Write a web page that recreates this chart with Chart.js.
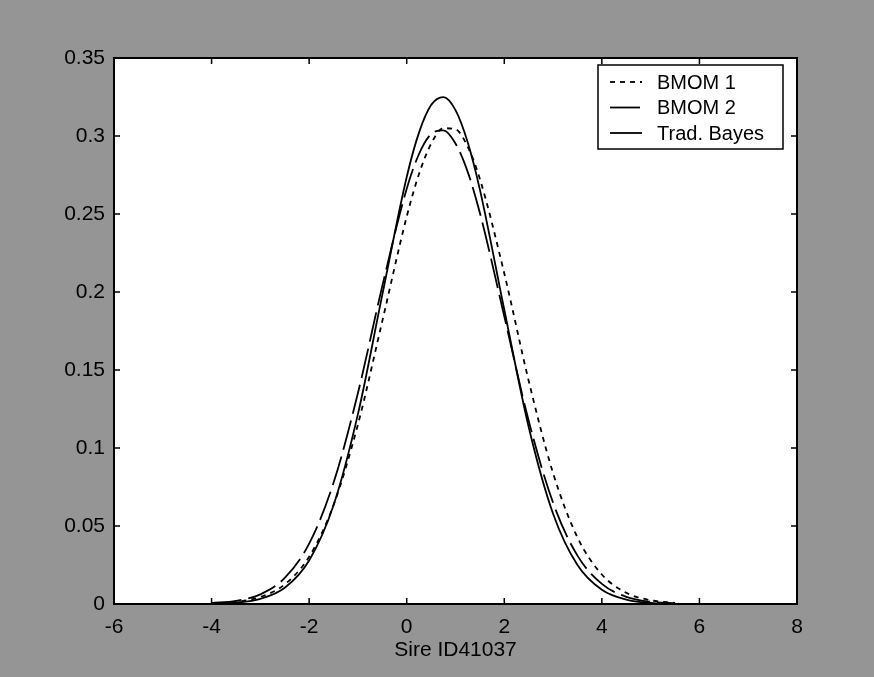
<!DOCTYPE html>
<html>
<head>
<meta charset="utf-8">
<script src="https://cdn.jsdelivr.net/npm/chart.js@4.4.1/dist/chart.umd.min.js"></script>
<style>
  html, body { margin: 0; padding: 0; background: #959595; }
  canvas { display: block; }
</style>
</head>
<body>
<canvas id="graph" width="874" height="677"></canvas>
<script>
// values
const xValues = [-4, -3.5, -3, -2.5, -2, -1.5, -1, -0.5, 0, 0.25, 0.5, 0.75, 1, 1.25, 1.5, 2, 2.5, 3, 3.5, 4, 4.5, 5, 5.5];
const bmom1 = [0.0004, 0.0014, 0.0045, 0.0126, 0.0303, 0.0634, 0.1151, 0.1814, 0.2483, 0.2755, 0.2950, 0.3050, 0.3043, 0.2931, 0.2725, 0.2119, 0.1431, 0.0839, 0.0427, 0.0189, 0.0072, 0.0024, 0.0007];
const bmom2 = [0.0006, 0.0020, 0.0062, 0.0167, 0.0387, 0.0777, 0.1352, 0.2039, 0.2662, 0.2883, 0.3012, 0.3036, 0.2952, 0.2770, 0.2507, 0.1844, 0.1175, 0.0649, 0.0310, 0.0129, 0.0046, 0.0014, 0.0004];
const tradBayes = [0.0002, 0.0009, 0.0033, 0.0104, 0.0279, 0.0633, 0.1217, 0.1983, 0.2737, 0.3020, 0.3198, 0.3249, 0.3166, 0.2960, 0.2656, 0.1886, 0.1135, 0.0579, 0.0250, 0.0091, 0.0028, 0.0007, 0.0002];

const seriesNames = ['BMOM 1', 'BMOM 2', 'Trad. Bayes'];
const xTicks = [-6, -4, -2, 0, 2, 4, 6, 8];
const yTicks = [0, 0.05, 0.1, 0.15, 0.2, 0.25, 0.3, 0.35];
const yTickLabels = ['0', '0.05', '0.1', '0.15', '0.2', '0.25', '0.3', '0.35'];
const xTitle = 'Sire ID41037';

const FONT = "'Liberation Sans', Arial, sans-serif";

function points(ys) {
    return xValues.map((x, i) => ({x: x, y: ys[i]}));
}

// grey scan background + white axes area
const paper = {
    id: 'paper',
    beforeDraw(chart) {
        const ctx = chart.ctx, a = chart.chartArea;
        ctx.save();
        ctx.fillStyle = '#959595';
        ctx.fillRect(0, 0, chart.width, chart.height);
        ctx.fillStyle = '#ffffff';
        ctx.fillRect(a.left, a.top, a.right - a.left, a.bottom - a.top);
        ctx.restore();
    }
};

// matlab style box with inward ticks, plus legend box
const frame = {
    id: 'frame',
    afterDraw(chart) {
        const ctx = chart.ctx, a = chart.chartArea;
        const xs = chart.scales.x, ys = chart.scales.y;
        const len = 6;
        ctx.save();
        ctx.strokeStyle = '#000';
        ctx.lineWidth = 1.5;
        ctx.beginPath();
        xTicks.forEach(t => {
            const px = xs.getPixelForValue(t);
            ctx.moveTo(px, a.bottom); ctx.lineTo(px, a.bottom - len);
            ctx.moveTo(px, a.top); ctx.lineTo(px, a.top + len);
        });
        yTicks.forEach(t => {
            const py = ys.getPixelForValue(t);
            ctx.moveTo(a.left, py); ctx.lineTo(a.left + len, py);
            ctx.moveTo(a.right, py); ctx.lineTo(a.right - len, py);
        });
        ctx.stroke();
        ctx.lineWidth = 2;
        ctx.strokeRect(a.left, a.top, a.right - a.left, a.bottom - a.top);

        // legend
        const bw = 185, bh = 84;
        const bx = a.right - 14 - bw, by = a.top + 7;
        ctx.fillStyle = '#fff';
        ctx.fillRect(bx, by, bw, bh);
        ctx.lineWidth = 1.5;
        ctx.strokeRect(bx, by, bw, bh);
        ctx.font = '20px ' + FONT;
        ctx.textBaseline = 'middle';
        chart.data.datasets.forEach((ds, i) => {
            const y = by + 17 + i * 25.5;
            ctx.setLineDash(ds.borderDash || []);
            ctx.lineWidth = ds.borderWidth;
            ctx.beginPath();
            ctx.moveTo(bx + 12, y);
            ctx.lineTo(bx + 44, y);
            ctx.stroke();
            ctx.setLineDash([]);
            ctx.fillStyle = '#000';
            ctx.fillText(ds.label, bx + 59, y + 1);
        });
        ctx.restore();
    }
};

new Chart(document.getElementById('graph'), {
    type: 'line',
    data: {
        datasets: [
            {label: seriesNames[0], data: points(bmom1), borderColor: '#000', borderWidth: 1.8, borderDash: [5, 5]},
            {label: seriesNames[1], data: points(bmom2), borderColor: '#000', borderWidth: 1.8, borderDash: [30, 7]},
            {label: seriesNames[2], data: points(tradBayes), borderColor: '#000', borderWidth: 1.8}
        ]
    },
    options: {
        responsive: false,
        animation: false,
        events: [],
        layout: {padding: {left: 0, top: 58, right: 77, bottom: 0}},
        elements: {
            point: {radius: 0},
            line: {cubicInterpolationMode: 'monotone', fill: false}
        },
        plugins: {legend: {display: false}, tooltip: {enabled: false}},
        scales: {
            x: {
                type: 'linear',
                min: -6,
                max: 8,
                afterBuildTicks(s) { s.ticks = xTicks.map(v => ({value: v})); },
                afterFit(s) { s.height = 73; },
                grid: {display: false, drawTicks: false},
                border: {display: false},
                ticks: {
                    padding: 11,
                    color: '#000',
                    font: {family: FONT, size: 21},
                    callback: v => String(v)
                },
                title: {
                    display: true,
                    text: xTitle,
                    color: '#000',
                    font: {family: FONT, size: 21},
                    padding: {top: 0, bottom: 14}
                }
            },
            y: {
                type: 'linear',
                min: 0,
                max: 0.35,
                afterBuildTicks(s) { s.ticks = yTicks.map(v => ({value: v})); },
                afterFit(s) { s.width = 114; },
                grid: {display: false, drawTicks: false},
                border: {display: false},
                ticks: {
                    padding: 9,
                    color: '#000',
                    font: {family: FONT, size: 21},
                    callback: (v, i) => yTickLabels[i]
                }
            }
        }
    },
    plugins: [paper, frame]
});
</script>
</body>
</html>
